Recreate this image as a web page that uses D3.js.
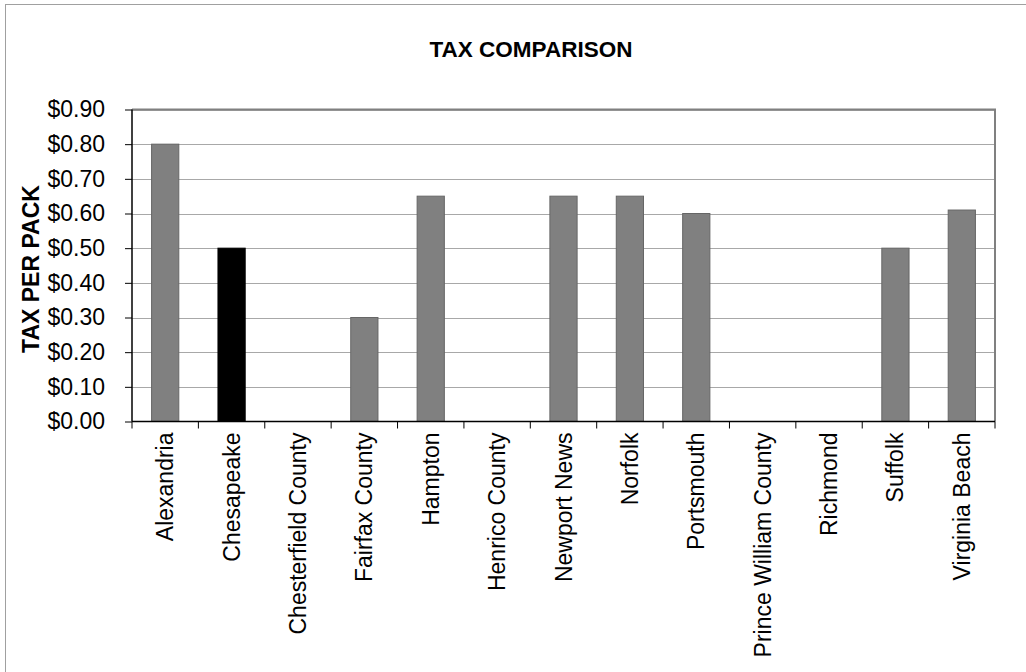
<!DOCTYPE html>
<html><head><meta charset="utf-8">
<script src="https://cdn.jsdelivr.net/npm/d3@7"></script>
<style>body{margin:0;background:#fff}svg{display:block;font-family:Arial,"Liberation Sans",sans-serif}</style>
</head><body>
<svg id="c" width="1026" height="672"></svg>
<script>
const categories = ["Alexandria","Chesapeake","Chesterfield County","Fairfax County","Hampton","Henrico County","Newport News","Norfolk","Portsmouth","Prince William County","Richmond","Suffolk","Virginia Beach"];
const taxValues = [0.80,0.50,0,0.30,0.65,0,0.65,0.65,0.60,0,0,0.50,0.61];
const barColors = ["#808080","#000000","#808080","#808080","#808080","#808080","#808080","#808080","#808080","#808080","#808080","#808080","#808080"];
const yTicks = [0,0.1,0.2,0.3,0.4,0.5,0.6,0.7,0.8,0.9];
const title = "TAX COMPARISON";
const yTitle = "TAX PER PACK";

const svg = d3.select("#c");
const L=132, R=995, T=109.5, B=421.5;
// outer chart border
svg.append("rect").attr("x",5.5).attr("y",4.5).attr("width",1030).attr("height",680)
  .attr("fill","#fff").attr("stroke","#a0a0a0").attr("stroke-width",1);

const x = d3.scaleBand().domain(categories).range([L,R]).padding(0);
const y = d3.scaleLinear().domain([0,0.9]).range([B,T]);

// gridlines
svg.append("g").selectAll("line").data(yTicks.filter(d=>d>0)).join("line")
  .attr("x1",L).attr("x2",R).attr("y1",d=>Math.round(y(d))+0.5).attr("y2",d=>Math.round(y(d))+0.5)
  .attr("stroke","#a8a8a8").attr("stroke-width",1);

// plot border top/right
svg.append("path").attr("d",`M${L},${T} H${R} V${B}`).attr("fill","none").attr("stroke","#808080").attr("stroke-width",2);

// bars
const bw = x.bandwidth()*0.41;
svg.append("g").selectAll("rect").data(categories).join("rect")
  .attr("x",d=>x(d)+x.bandwidth()/2-bw/2)
  .attr("y",(d,i)=>y(taxValues[i]))
  .attr("width",bw)
  .attr("height",(d,i)=>B-y(taxValues[i]))
  .attr("fill",(d,i)=>barColors[i])
  .attr("stroke",(d,i)=>taxValues[i]>0?(barColors[i]==="#000000"?"#000":"#666"):"none")
  .attr("stroke-width",1);

// y axis
const yAxis = d3.axisLeft(y).tickValues(yTicks).tickSize(7).tickPadding(20)
  .tickFormat(d=>"$"+d.toFixed(2));
const gy = svg.append("g").attr("transform",`translate(${L},0)`).call(yAxis);
gy.select(".domain").attr("stroke","#000").attr("stroke-width",1.5).attr("d",`M0,${T}V${B}`);
gy.selectAll(".tick line").attr("stroke","#000");
gy.selectAll(".tick text").attr("font-size",23).attr("fill","#000").attr("font-family","Arial,'Liberation Sans',sans-serif");

// x axis baseline
svg.append("line").attr("x1",L).attr("x2",R).attr("y1",B).attr("y2",B).attr("stroke","#000").attr("stroke-width",1.5);
// category boundary ticks
const bounds = categories.map(c=>x(c)).concat([R]);
svg.append("g").selectAll("line").data(bounds).join("line")
  .attr("x1",d=>d).attr("x2",d=>d).attr("y1",B).attr("y2",B+7).attr("stroke","#000");
// category labels
svg.append("g").selectAll("text").data(categories).join("text")
  .attr("transform",d=>`translate(${x(d)+x.bandwidth()/2+8},${B+11}) rotate(-90)`)
  .attr("text-anchor","end").attr("font-size",23).attr("fill","#000").text(d=>d);

// title
svg.append("text").attr("x",531).attr("y",57).attr("text-anchor","middle")
  .attr("font-size",22.5).attr("font-weight","bold").text(title);
// y title
svg.append("text").attr("transform",`translate(39,269) rotate(-90)`).attr("text-anchor","middle")
  .attr("font-size",23).attr("font-weight","bold").text(yTitle);
</script>
</body></html>
